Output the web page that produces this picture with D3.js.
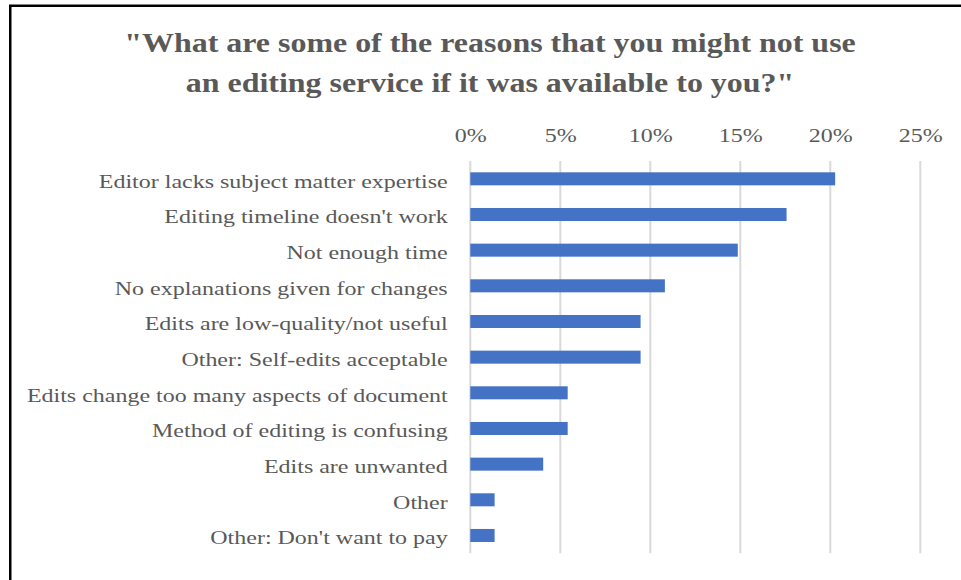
<!DOCTYPE html>
<html>
<head>
<meta charset="utf-8">
<script src="https://cdn.jsdelivr.net/npm/d3@7"></script>
<style>
  html, body { margin: 0; padding: 0; background: #fff; }
  svg { display: block; }
  text { font-family: "Liberation Serif", "Times New Roman", serif; fill: #595959; }
</style>
</head>
<body>
<svg id="chart" width="961" height="580"></svg>
<script>
// Survey responses: share of respondents citing each reason (%)
const categories = [
  "Editor lacks subject matter expertise",
  "Editing timeline doesn't work",
  "Not enough time",
  "No explanations given for changes",
  "Edits are low-quality/not useful",
  "Other: Self-edits acceptable",
  "Edits change too many aspects of document",
  "Method of editing is confusing",
  "Edits are unwanted",
  "Other",
  "Other: Don't want to pay"
];
const values = [20.27, 17.57, 14.86, 10.81, 9.46, 9.46, 5.41, 5.41, 4.05, 1.35, 1.35];
const tickValues = [0, 5, 10, 15, 20, 25];
const titleLines = [
  "\"What are some of the reasons that you might not use",
  "an editing service if it was available to you?\""
];

const svg = d3.select("#chart");
const stretch = 1.263;      // horizontal widening applied to body text
const titleStretch = 1.17;  // horizontal widening applied to the title

const x = d3.scaleLinear().domain([0, 25]).range([470.3, 920.3]);
const y = d3.scaleBand()
  .domain(categories)
  .range([161, 553.3])
  .paddingInner(0.635)
  .paddingOuter(0.3175);

// frame
svg.append("rect")
  .attr("x", 10.25).attr("y", 5.75)
  .attr("width", 1000).attr("height", 1000)
  .attr("fill", "none")
  .attr("stroke", "#000")
  .attr("stroke-width", 2.5);

// title
svg.append("g").selectAll("text")
  .data(titleLines)
  .join("text")
  .attr("transform", (d, i) => `translate(490,${52 + i * 40}) scale(${titleStretch},1)`)
  .attr("text-anchor", "middle")
  .attr("font-size", 27.3)
  .attr("font-weight", "bold")
  .text(d => d);

// vertical gridlines
svg.append("g").selectAll("line")
  .data(tickValues)
  .join("line")
  .attr("x1", d => x(d)).attr("x2", d => x(d))
  .attr("y1", 161).attr("y2", 553.3)
  .attr("stroke", "#d9d9d9")
  .attr("stroke-width", 2);

// top axis labels
const axisTop = d3.axisTop(x).tickValues(tickValues).tickFormat(d => d + "%").tickSize(0);
const axisG = svg.append("g").attr("transform", "translate(0,141.7)").call(axisTop);
axisG.select(".domain").remove();
axisG.selectAll("text")
  .attr("y", 0).attr("dy", 0)
  .attr("font-size", 19)
  .attr("font-family", "Liberation Serif, Times New Roman, serif")
  .attr("fill", "#595959")
  .attr("transform", `scale(${stretch},1)`)
  .attr("x", 0);

// bars
svg.append("g").selectAll("rect")
  .data(values)
  .join("rect")
  .attr("x", x(0))
  .attr("y", (d, i) => y(categories[i]))
  .attr("width", d => x(d) - x(0))
  .attr("height", y.bandwidth())
  .attr("fill", "#4472C4");

// category labels
svg.append("g").selectAll("text")
  .data(categories)
  .join("text")
  .attr("transform", d => `translate(447.7,${y(d) + y.bandwidth() / 2 + 8.9}) scale(${stretch},1)`)
  .attr("text-anchor", "end")
  .attr("font-size", 19)
  .text(d => d);
</script>
</body>
</html>
